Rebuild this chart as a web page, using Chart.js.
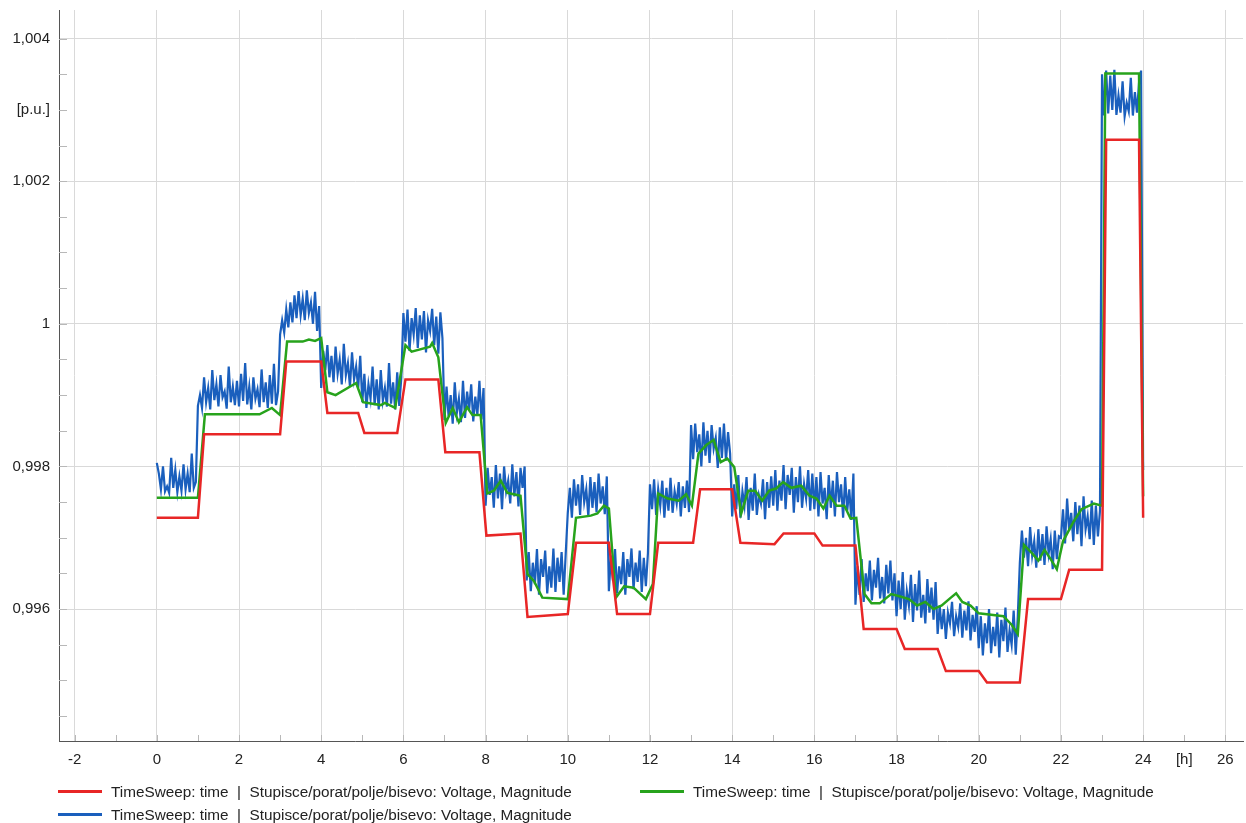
<!DOCTYPE html>
<html>
<head>
<meta charset="utf-8">
<script src="https://cdn.jsdelivr.net/npm/chart.js@4.4.0/dist/chart.umd.min.js"></script>
<style>
  body { margin: 0; background: #fff; }
  #wrap { position: relative; width: 1246px; height: 823px; }
  #legend { position: absolute; left: 0; top: 0; width: 1246px; height: 823px; pointer-events: none;
            font: 15.3px "Liberation Sans", Arial, sans-serif; color: #222; }
  .item { position: absolute; height: 20px; line-height: 20px; white-space: pre; }
  .item .ln { display: inline-block; width: 44px; height: 3px; vertical-align: middle; margin-right: 9px; margin-top: -2px; }
</style>
</head>
<body>
<div id="wrap">
  <canvas id="chart" width="1246" height="823"></canvas>
  <div id="legend"></div>
</div>
<script>
// red series (hours / p.u.)
var redT = [0, 1, 1.15, 3, 3.15, 4, 4.15, 4.9, 5.05, 5.85, 6.05, 6.85, 7.02, 7.85, 8.02, 8.85, 9.02, 10.0, 10.2, 11.0,
            11.2, 12.0, 12.2, 13.05, 13.22, 14.0, 14.2, 15.03, 15.25, 16.0, 16.2, 17.0, 17.2, 18.0, 18.2, 19.0, 19.2, 20.0,
            20.2, 21.0, 21.2, 22.0, 22.2, 23.0, 23.1, 23.9, 24.0];
var redV = [0.99728, 0.99728, 0.99845, 0.99845, 0.99947, 0.99947, 0.99875, 0.99875, 0.99847, 0.99847, 0.99922, 0.99922,
            0.99820, 0.99820, 0.99703, 0.99706, 0.99589, 0.99593, 0.99693, 0.99693, 0.99593, 0.99593, 0.99693, 0.99693,
            0.99768, 0.99768, 0.99693, 0.99691, 0.99706, 0.99706, 0.99689, 0.99689, 0.99572, 0.99572, 0.99544, 0.99544,
            0.99513, 0.99513, 0.99497, 0.99497, 0.99614, 0.99614, 0.99655, 0.99655, 1.00258, 1.00258, 0.99728];

// green series
var greenT = [0, 1.0, 1.17, 2.5, 2.8, 3.0, 3.17, 3.55, 3.7, 3.85, 4.0, 4.15, 4.35, 4.85, 5.02, 5.45, 5.55, 5.8, 6.05, 6.2,
              6.65, 6.7, 6.85, 7.03, 7.2, 7.35, 7.55, 7.68, 7.88, 8.04, 8.2, 8.37, 8.53, 8.85, 9.02, 9.18, 9.38, 10.0, 10.2,
              10.56, 10.72, 10.88, 11.0, 11.17, 11.37, 11.6, 11.9, 12.07, 12.2, 12.43, 12.7, 12.88, 13.02, 13.18, 13.37,
              13.55, 13.72, 13.88, 14.05, 14.22, 14.39, 14.56, 14.73, 14.9, 15.07, 15.24, 15.44, 15.68, 15.88, 16.05,
              16.22, 16.37, 16.54, 16.73, 16.88, 17.02, 17.22, 17.39, 17.59, 17.87, 18.07, 18.3, 18.5, 18.7, 18.9, 19.1,
              19.3, 19.45, 19.6, 19.8, 20.0, 20.3, 20.6, 20.8, 20.95, 21.1, 21.3, 21.45, 21.6, 21.75, 21.9, 22.05, 22.3,
              22.5, 22.8, 23.0, 23.08, 23.9, 24.0];
var greenV = [0.99756, 0.99756, 0.99873, 0.99873, 0.99882, 0.99872, 0.99975, 0.99975, 0.99978, 0.99976, 0.99980, 0.99904,
              0.99900, 0.99917, 0.99890, 0.99886, 0.99889, 0.99882, 0.99970, 0.99961, 0.99968, 0.99973, 0.99953, 0.99861,
              0.99882, 0.99862, 0.99883, 0.99872, 0.99872, 0.99762, 0.99766, 0.99780, 0.99763, 0.99759, 0.99649, 0.99639,
              0.99616, 0.99614, 0.99728, 0.99731, 0.99734, 0.99745, 0.99741, 0.99616, 0.99632, 0.99630, 0.99614, 0.99635,
              0.99762, 0.99755, 0.99752, 0.99761, 0.99745, 0.99818, 0.99830, 0.99837, 0.99806, 0.99811, 0.99799, 0.99734,
              0.99766, 0.99766, 0.99752, 0.99766, 0.99769, 0.99778, 0.99770, 0.99773, 0.99759, 0.99755, 0.99741, 0.99759,
              0.99745, 0.99745, 0.99727, 0.99728, 0.99621, 0.99608, 0.99608, 0.99621, 0.99618, 0.99614, 0.99605, 0.99610,
              0.99600, 0.99605, 0.99615, 0.99622, 0.99610, 0.99605, 0.99594, 0.99592, 0.99590, 0.99578, 0.99565, 0.99690,
              0.99678, 0.99668, 0.99683, 0.99670, 0.99656, 0.99695, 0.99722, 0.99740, 0.99748, 0.99745, 1.00351, 1.00351,
              0.99758];

// blue series, one row per hour, sampled every 0.05 h
var blueStep = 0.05;
var blueV = [
  0.99805,0.99790,0.99768,0.99800,0.99765,0.99772,0.99763,0.99812,0.99770,0.99795,0.99764,0.99786,0.99766,0.99803,0.99768,0.99790,0.99764,0.99818,0.99770,0.99778,
  0.99885,0.99900,0.99882,0.99925,0.99890,0.99910,0.99880,0.99935,0.99893,0.99915,0.99884,0.99928,0.99897,0.99905,0.99881,0.99940,0.99890,0.99912,0.99886,0.99920,
  0.99884,0.99930,0.99892,0.99945,0.99887,0.99912,0.99880,0.99925,0.99895,0.99908,0.99883,0.99936,0.99890,0.99918,0.99882,0.99928,0.99888,0.99944,0.99886,0.99905,
  0.99985,1.00005,0.99988,1.00020,0.99995,1.00030,1.00002,1.00040,1.00008,1.00046,1.00012,1.00035,1.00005,1.00047,1.00015,1.00030,1.00000,1.00045,0.99990,1.00025,
  0.99910,0.99962,0.99935,0.99970,0.99925,0.99955,0.99918,0.99968,0.99930,0.99950,0.99915,0.99972,0.99928,0.99945,0.99912,0.99960,0.99922,0.99940,0.99910,0.99955,
  0.99890,0.99930,0.99882,0.99915,0.99895,0.99940,0.99886,0.99922,0.99880,0.99935,0.99892,0.99910,0.99884,0.99945,0.99888,0.99918,0.99880,0.99932,0.99885,0.99925,
  1.00015,0.99975,1.00020,0.99962,1.00008,0.99985,1.00022,0.99966,1.00012,0.99978,1.00018,0.99960,1.00005,0.99990,1.00021,0.99970,1.00010,0.99958,1.00016,0.99980,
  0.99865,0.99912,0.99870,0.99900,0.99860,0.99918,0.99875,0.99895,0.99862,0.99920,0.99868,0.99905,0.99880,0.99915,0.99863,0.99898,0.99872,0.99920,0.99866,0.99910,
  0.99745,0.99798,0.99760,0.99785,0.99742,0.99802,0.99755,0.99790,0.99740,0.99800,0.99765,0.99780,0.99748,0.99803,0.99758,0.99792,0.99744,0.99798,0.99770,0.99800,
  0.99640,0.99680,0.99625,0.99665,0.99635,0.99684,0.99620,0.99670,0.99645,0.99682,0.99622,0.99660,0.99630,0.99685,0.99624,0.99672,0.99638,0.99680,0.99620,0.99678,
  0.99735,0.99770,0.99728,0.99782,0.99745,0.99775,0.99732,0.99788,0.99750,0.99768,0.99730,0.99785,0.99742,0.99778,0.99736,0.99790,0.99748,0.99772,0.99733,0.99786,
  0.99625,0.99675,0.99640,0.99684,0.99622,0.99660,0.99635,0.99680,0.99620,0.99670,0.99645,0.99685,0.99628,0.99665,0.99638,0.99682,0.99624,0.99672,0.99632,0.99678,
  0.99775,0.99740,0.99782,0.99732,0.99768,0.99745,0.99780,0.99728,0.99770,0.99738,0.99784,0.99735,0.99765,0.99748,0.99778,0.99730,0.99772,0.99742,0.99780,0.99736,
  0.99858,0.99810,0.99860,0.99820,0.99845,0.99800,0.99862,0.99815,0.99850,0.99805,0.99858,0.99825,0.99840,0.99798,0.99855,0.99812,0.99860,0.99808,0.99848,0.99818,
  0.99730,0.99775,0.99740,0.99788,0.99728,0.99765,0.99745,0.99785,0.99725,0.99770,0.99738,0.99790,0.99732,0.99760,0.99748,0.99782,0.99726,0.99778,0.99742,0.99786,
  0.99745,0.99795,0.99738,0.99780,0.99752,0.99802,0.99740,0.99788,0.99760,0.99798,0.99735,0.99785,0.99750,0.99800,0.99742,0.99775,0.99755,0.99795,0.99738,0.99790,
  0.99740,0.99785,0.99730,0.99792,0.99748,0.99770,0.99726,0.99788,0.99742,0.99780,0.99730,0.99792,0.99750,0.99775,0.99728,0.99785,0.99738,0.99768,0.99725,0.99790,
  0.99606,0.99660,0.99620,0.99670,0.99610,0.99650,0.99625,0.99668,0.99612,0.99655,0.99630,0.99672,0.99615,0.99645,0.99608,0.99662,0.99622,0.99668,0.99612,0.99650,
  0.99590,0.99640,0.99600,0.99652,0.99585,0.99625,0.99605,0.99648,0.99582,0.99635,0.99598,0.99654,0.99588,0.99620,0.99580,0.99642,0.99595,0.99630,0.99585,0.99638,
  0.99565,0.99605,0.99572,0.99600,0.99558,0.99595,0.99580,0.99610,0.99562,0.99590,0.99575,0.99608,0.99560,0.99598,0.99570,0.99611,0.99556,0.99592,0.99568,0.99604,
  0.99545,0.99590,0.99535,0.99580,0.99552,0.99600,0.99538,0.99575,0.99548,0.99595,0.99532,0.99585,0.99555,0.99602,0.99540,0.99570,0.99550,0.99598,0.99536,0.99590,
  0.99665,0.99710,0.99672,0.99700,0.99660,0.99715,0.99675,0.99695,0.99658,0.99712,0.99668,0.99705,0.99662,0.99716,0.99678,0.99698,0.99656,0.99710,0.99670,0.99702,
  0.99700,0.99740,0.99692,0.99755,0.99710,0.99735,0.99695,0.99750,0.99705,0.99745,0.99688,0.99758,0.99712,0.99730,0.99698,0.99752,0.99690,0.99745,0.99702,0.99738,
  1.00350,1.00292,1.00355,1.00295,1.00348,1.00300,1.00356,1.00293,1.00320,1.00296,1.00340,1.00291,1.00310,1.00298,1.00345,1.00292,1.00325,1.00296,1.00338,1.00355,
  0.99795
];

var seriesName = 'TimeSweep: time  |  Stupisce/porat/polje/bisevo: Voltage, Magnitude';
var xTickVals = [-2,-1,0,1,2,3,4,5,6,7,8,9,10,11,12,13,14,15,16,17,18,19,20,21,22,23,24,25,26];
var xUnitTick = 25;   // shows "[h]"
var yUnitTick = 1.003; // shows "[p.u.]"

var RED = '#e82626', GREEN = '#27a31c', BLUE = '#1a5fbd';
var FONT = { family: '"Liberation Sans", Arial, sans-serif', size: 15 };

function pts(t, v) {
  var out = [];
  for (var i = 0; i < t.length; i++) out.push({ x: t[i], y: v[i] });
  return out;
}
var bluePts = blueV.map(function (v, i) { return { x: +(i * blueStep).toFixed(2), y: v }; });

// y ticks every 0.0005, stored as k/2000
var yTickK = [];
for (var k = 1989; k <= 2008; k++) yTickK.push(k);

function isEvenMilli(v) { return Math.round(v * 2000) % 4 === 0; }
function fmtY(v) {
  var k = Math.round(v * 2000);
  if (k === Math.round(yUnitTick * 2000)) return '[p.u.]';
  if (k % 4 !== 0) return '';
  return String(+(k / 2000).toFixed(3)).replace('.', ',');
}

var innerTicks = {
  id: 'innerTicks',
  afterDraw: function (chart) {
    var ctx = chart.ctx, a = chart.chartArea, sx = chart.scales.x, sy = chart.scales.y;
    ctx.save();
    ctx.strokeStyle = '#b8b8b8';
    ctx.lineWidth = 1;
    ctx.beginPath();
    sx.ticks.forEach(function (t) {
      var px = Math.round(sx.getPixelForValue(t.value)) + 0.5;
      ctx.moveTo(px, a.bottom);
      ctx.lineTo(px, a.bottom - 6);
    });
    sy.ticks.forEach(function (t) {
      var py = Math.round(sy.getPixelForValue(t.value)) + 0.5;
      ctx.moveTo(a.left, py);
      ctx.lineTo(a.left + 8, py);
    });
    ctx.stroke();
    ctx.restore();
  }
};

var chart = new Chart(document.getElementById('chart'), {
  type: 'line',
  data: {
    datasets: [
      { label: seriesName, data: pts(redT, redV), borderColor: RED, backgroundColor: RED, borderWidth: 2.5 },
      { label: seriesName, data: pts(greenT, greenV), borderColor: GREEN, backgroundColor: GREEN, borderWidth: 2.5 },
      { label: seriesName, data: bluePts, borderColor: BLUE, backgroundColor: BLUE, borderWidth: 2.2 }
    ]
  },
  options: {
    responsive: false,
    animation: false,
    layout: { padding: { left: 0, right: 3, top: 10, bottom: 52 } },
    elements: { point: { radius: 0 }, line: { tension: 0, fill: false } },
    plugins: { legend: { display: false }, tooltip: { enabled: false } },
    scales: {
      x: {
        type: 'linear', min: -2.38, max: 26.43,
        afterBuildTicks: function (s) { s.ticks = xTickVals.map(function (v) { return { value: v }; }); },
        afterFit: function (s) { s.height = 30; s.paddingLeft = 0; s.paddingRight = 0; },
        ticks: {
          autoSkip: false, maxRotation: 0, padding: 10, font: FONT, color: '#222',
          callback: function (v) {
            if (v === xUnitTick) return '[h]';
            return v % 2 === 0 ? String(v) : '';
          }
        },
        grid: {
          drawTicks: false, lineWidth: 1,
          color: function (c) { return c.tick && c.tick.value % 2 === 0 ? '#d9d9d9' : 'rgba(0,0,0,0)'; }
        },
        border: { color: '#555', width: 1 }
      },
      y: {
        type: 'linear', min: 0.99415, max: 1.0044,
        afterBuildTicks: function (s) { s.ticks = yTickK.map(function (k) { return { value: k / 2000 }; }); },
        afterFit: function (s) { s.width = 59; s.paddingTop = 0; s.paddingBottom = 0; },
        ticks: { autoSkip: false, padding: 9, font: FONT, color: '#222', callback: fmtY },
        grid: {
          drawTicks: false, lineWidth: 1,
          color: function (c) { return c.tick && isEvenMilli(c.tick.value) ? '#d9d9d9' : 'rgba(0,0,0,0)'; }
        },
        border: { color: '#555', width: 1 }
      }
    }
  },
  plugins: [innerTicks]
});

// legend: red and green on the first row, blue below red
var slots = [{ left: 58, top: 782 }, { left: 640, top: 782 }, { left: 58, top: 805 }];
var lg = document.getElementById('legend');
chart.data.datasets.forEach(function (ds, i) {
  var d = document.createElement('div');
  d.className = 'item';
  d.style.left = slots[i].left + 'px';
  d.style.top = slots[i].top + 'px';
  var ln = document.createElement('span');
  ln.className = 'ln';
  ln.style.background = ds.borderColor;
  d.appendChild(ln);
  d.appendChild(document.createTextNode(ds.label));
  lg.appendChild(d);
});
</script>
</body>
</html>
